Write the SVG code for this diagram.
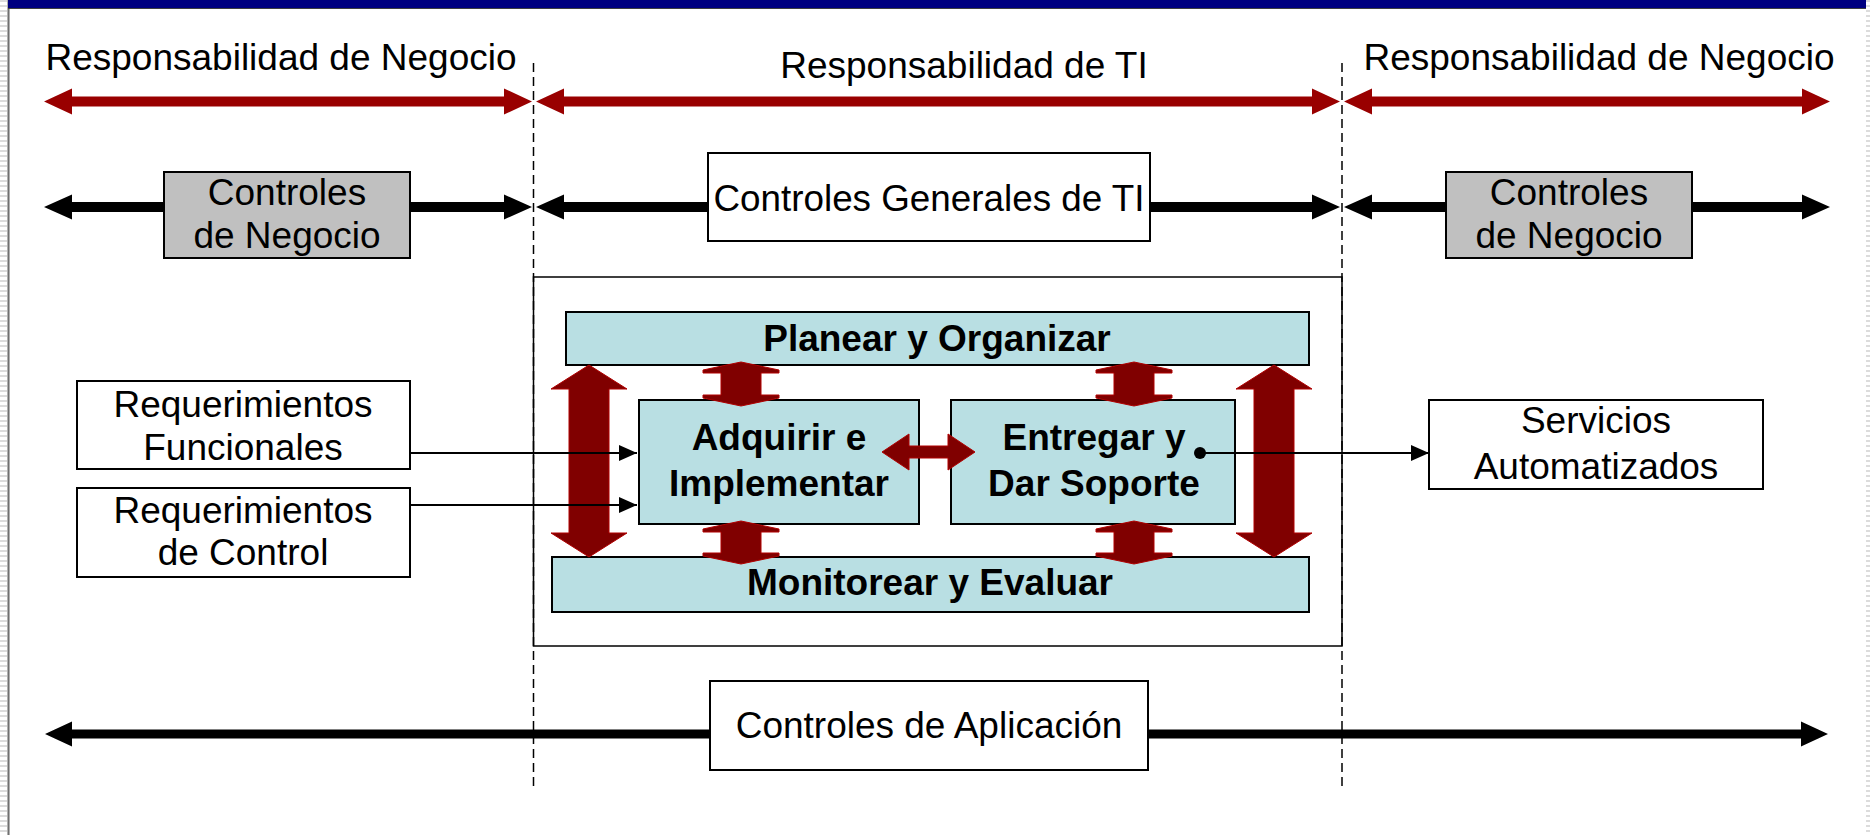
<svg xmlns="http://www.w3.org/2000/svg" width="1870" height="835" viewBox="0 0 1870 835">
<defs>
<style>
.t{font-family:"Liberation Sans",Arial,sans-serif;font-size:37px;fill:#000;text-anchor:middle}
.b{font-family:"Liberation Sans",Arial,sans-serif;font-size:37px;font-weight:bold;fill:#000;text-anchor:middle}
.box{fill:#fff;stroke:#000;stroke-width:2}
.gray{fill:#c0c0c0;stroke:#000;stroke-width:2}
.blue{fill:#b9dfe3;stroke:#000;stroke-width:2}
.red{fill:#990000}
.dred{fill:#800000;stroke:#b00000;stroke-width:1}
.blk{fill:#000}
.thin{stroke:#000;stroke-width:2;fill:none;marker-end:url(#ah)}
.dash{stroke:#000;stroke-width:1.5;stroke-dasharray:9 5;fill:none}
</style>
<marker id="ah" markerUnits="userSpaceOnUse" markerWidth="18" markerHeight="16" refX="18" refY="8" orient="auto">
<path d="M0,0 L18,8 L0,16 Z" fill="#000"/>
</marker>
<pattern id="stripe" width="7" height="5" patternUnits="userSpaceOnUse">
<rect x="0" y="0" width="7" height="2" fill="#dcdcdc"/>
</pattern>
</defs>
<rect width="1870" height="835" fill="#fff"/>
<g id="frame">
<rect x="0" y="0" width="7" height="835" fill="url(#stripe)"/>
<rect x="1866" y="0" width="4" height="835" fill="url(#stripe)"/>
<rect x="7" y="0" width="3" height="835" fill="#b0b0b0"/>
<line x1="8.5" y1="0" x2="8.5" y2="835" stroke="#707070" stroke-width="1"/>
<rect x="8" y="0" width="1858" height="8" fill="#000080"/>
<line x1="8" y1="8.5" x2="1866" y2="8.5" stroke="#404040" stroke-width="1"/>
</g>
<g id="dividers">
<line class="dash" x1="533.5" y1="63" x2="533.5" y2="787"/>
<line class="dash" x1="1342" y1="63" x2="1342" y2="787"/>
</g>
<g id="labels">
<text class="t" x="281" y="70">Responsabilidad de Negocio</text>
<text class="t" x="964" y="78">Responsabilidad de TI</text>
<text class="t" x="1599" y="70">Responsabilidad de Negocio</text>
</g>
<g id="outer-box">
<rect x="533.5" y="277" width="808.5" height="369" fill="none" stroke="#000" stroke-width="1.5"/>
</g>
<g id="controles-negocio-izq">
<rect class="gray" x="164" y="172" width="246" height="86"/>
<text class="t" x="287" y="205">Controles</text>
<text class="t" x="287" y="248">de Negocio</text>
</g>
<g id="controles-generales-ti">
<rect class="box" x="708" y="153" width="442" height="88"/>
<text class="t" x="929" y="211" textLength="431" lengthAdjust="spacingAndGlyphs">Controles Generales de TI</text>
</g>
<g id="controles-negocio-der">
<rect class="gray" x="1446" y="172" width="246" height="86"/>
<text class="t" x="1569" y="205">Controles</text>
<text class="t" x="1569" y="248">de Negocio</text>
</g>
<g id="planear">
<rect class="blue" x="566" y="312" width="743" height="53"/>
<text class="b" x="937" y="351">Planear y Organizar</text>
</g>
<g id="adquirir">
<rect class="blue" x="639" y="400" width="280" height="124"/>
<text class="b" x="779" y="450">Adquirir e</text>
<text class="b" x="779" y="496">Implementar</text>
</g>
<g id="entregar">
<rect class="blue" x="951" y="400" width="284" height="124"/>
<text class="b" x="1094" y="450">Entregar y</text>
<text class="b" x="1094" y="496">Dar Soporte</text>
</g>
<g id="monitorear">
<rect class="blue" x="552" y="557" width="757" height="55"/>
<text class="b" x="930" y="595">Monitorear y Evaluar</text>
</g>
<g id="req-funcionales">
<rect class="box" x="77" y="381" width="333" height="88"/>
<text class="t" x="243" y="417">Requerimientos</text>
<text class="t" x="243" y="460">Funcionales</text>
</g>
<g id="req-control">
<rect class="box" x="77" y="488" width="333" height="89"/>
<text class="t" x="243" y="523">Requerimientos</text>
<text class="t" x="243" y="565">de Control</text>
</g>
<g id="servicios">
<rect class="box" x="1429" y="400" width="334" height="89"/>
<text class="t" x="1596" y="433">Servicios</text>
<text class="t" x="1596" y="479">Automatizados</text>
</g>
<g id="controles-aplicacion">
<rect class="box" x="710" y="681" width="438" height="89"/>
<text class="t" x="929" y="738">Controles de Aplicación</text>
</g>
<g id="connectors">
<path class="red" d="M44,101.5 L72,88.5 L72,96.5 L504,96.5 L504,88.5 L532,101.5 L504,114.5 L504,106.5 L72,106.5 L72,114.5 Z"/>
<path class="red" d="M536,101.5 L564,88.5 L564,96.5 L1312,96.5 L1312,88.5 L1340,101.5 L1312,114.5 L1312,106.5 L564,106.5 L564,114.5 Z"/>
<path class="red" d="M1344,101.5 L1372,88.5 L1372,96.5 L1802,96.5 L1802,88.5 L1830,101.5 L1802,114.5 L1802,106.5 L1372,106.5 L1372,114.5 Z"/>
<path class="blk" d="M44,207 L72,194.5 L72,202 L164,202 L164,212 L72,212 L72,219.5 Z"/>
<path class="blk" d="M410,202 L504,202 L504,194.5 L532,207 L504,219.5 L504,212 L410,212 Z"/>
<path class="blk" d="M536,207 L564,194.5 L564,202 L708,202 L708,212 L564,212 L564,219.5 Z"/>
<path class="blk" d="M1150,202 L1312,202 L1312,194.5 L1340,207 L1312,219.5 L1312,212 L1150,212 Z"/>
<path class="blk" d="M1344,207 L1372,194.5 L1372,202 L1446,202 L1446,212 L1372,212 L1372,219.5 Z"/>
<path class="blk" d="M1692,202 L1802,202 L1802,194.5 L1830,207 L1802,219.5 L1802,212 L1692,212 Z"/>
<path class="blk" d="M45,734 L72,721.5 L72,729.5 L710,729.5 L710,738.5 L72,738.5 L72,746.5 Z"/>
<path class="blk" d="M1148,729.5 L1801,729.5 L1801,721.5 L1828,734 L1801,746.5 L1801,738.5 L1148,738.5 Z"/>
<path class="dred" d="M589,365 L627,389 L609,389 L609,533 L627,533 L589,557 L551,533 L569,533 L569,389 L551,389 Z"/>
<path class="dred" d="M1274,365 L1312,389 L1294,389 L1294,533 L1312,533 L1274,557 L1236,533 L1254,533 L1254,389 L1236,389 Z"/>
<path class="dred" d="M741,362 L779,370 L779,373 L761,373 L761,395 L779,395 L779,398 L741,406 L703,398 L703,395 L721,395 L721,373 L703,373 L703,370 Z"/>
<path class="dred" d="M1134,362 L1172,370 L1172,373 L1154,373 L1154,395 L1172,395 L1172,398 L1134,406 L1096,398 L1096,395 L1114,395 L1114,373 L1096,373 L1096,370 Z"/>
<path class="dred" d="M741,521 L779,529 L779,532 L761,532 L761,553 L779,553 L779,556 L741,564 L703,556 L703,553 L721,553 L721,532 L703,532 L703,529 Z"/>
<path class="dred" d="M1134,521 L1172,529 L1172,532 L1154,532 L1154,553 L1172,553 L1172,556 L1134,564 L1096,556 L1096,553 L1114,553 L1114,532 L1096,532 L1096,529 Z"/>
<path class="dred" d="M882,452 L909,434 L909,446 L948,446 L948,434 L975,452 L948,470 L948,458 L909,458 L909,470 Z"/>
<path class="thin" d="M410,453 H637"/>
<path class="thin" d="M410,505 H637"/>
<path class="thin" d="M1200,453 H1429"/>
<circle cx="1200" cy="453" r="6" fill="#000"/>
</g>
</svg>
